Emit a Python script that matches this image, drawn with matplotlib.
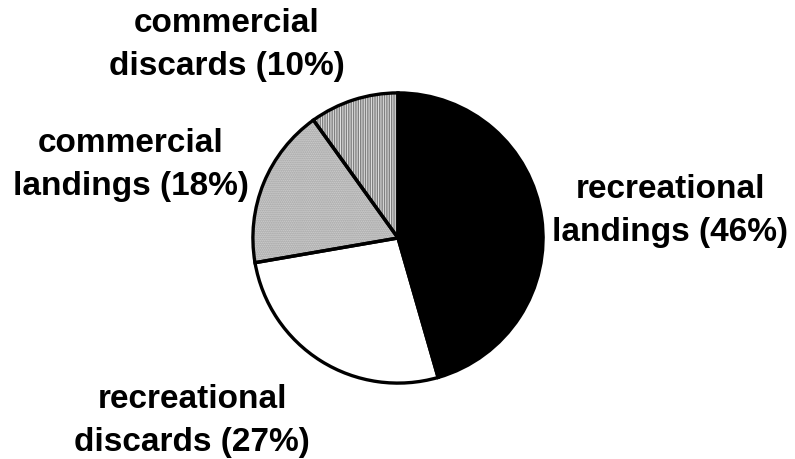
import matplotlib.pyplot as plt

labels = ["recreational\nlandings (46%)", "recreational\ndiscards (27%)",
          "commercial\nlandings (18%)", "commercial\ndiscards (10%)"]
shares = [46, 27, 18, 10]
colors = ["black", "white", "#d6d6d6", "#e4e4e4"]
hatches = [None, None, "........", "|||||||"]
hatch_colors = [None, None, "#9a9a9a", "#808080"]

# label centres in pixels (x, y from top)
label_pos = [(670, 211), (192, 421), (131, 165), (227, 45)]

W, H = 795, 459
fig = plt.figure(figsize=(W / 100, H / 100), dpi=100)
cx, cy, r = 398, 238, 148
ax = fig.add_axes([(cx - r) / W, (H - cy - r) / H, 2 * r / W, 2 * r / H])

# hatched fill underneath
wedges, _ = ax.pie(shares, colors=colors, startangle=90, counterclock=False,
                   radius=1, wedgeprops=dict(linewidth=0))
for w, h, hc in zip(wedges, hatches, hatch_colors):
    if h:
        w.set_hatch(h)
        w.set_edgecolor(hc)
        w.set_linewidth(0)

# outlines on top
outl, _ = ax.pie(shares, colors=["none"] * 4, startangle=90, counterclock=False,
                 radius=1, wedgeprops=dict(linewidth=2.4, edgecolor="black",
                                           fill=False))
ax.set_xlim(-1.02, 1.02)
ax.set_ylim(-1.02, 1.02)
ax.set_aspect("equal")
ax.axis("off")

for lab, (x, y) in zip(labels, label_pos):
    fig.text(x / W, 1 - y / H, lab, ha="center", va="center",
             fontsize=24, fontweight="bold", family="Liberation Sans",
             linespacing=1.5)

fig.savefig("out.png", dpi=100)
